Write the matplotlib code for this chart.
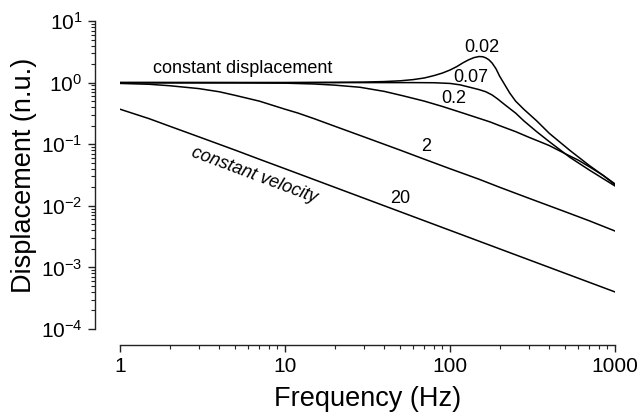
import matplotlib
matplotlib.use("Agg")
import matplotlib.pyplot as plt
from matplotlib.ticker import LogLocator, FixedLocator, FixedFormatter

plt.rcParams['font.family'] = ['Liberation Sans', 'DejaVu Sans']
plt.rcParams['mathtext.fontset'] = 'custom'
plt.rcParams['mathtext.rm'] = 'Liberation Sans'
plt.rcParams['mathtext.it'] = 'Liberation Sans:italic'

# values (Hz, normalised displacement)
freq_002 = [1, 10, 20, 30, 40, 50, 60, 70, 80, 90, 100, 110, 120, 130, 140, 150, 158, 165, 172,
            180, 190, 200, 215, 230, 250, 280, 335, 400, 534, 700, 850, 1000]
disp_002 = [1.0, 1.0, 1.01, 1.02, 1.04, 1.07, 1.12, 1.19, 1.30, 1.43, 1.60, 1.82, 2.1, 2.35, 2.55,
            2.65, 2.63, 2.52, 2.35, 2.08, 1.68, 1.27, 0.92, 0.68, 0.50, 0.37, 0.24, 0.15, 0.079,
            0.045, 0.031, 0.0227]

freq_007 = [1, 30, 60, 80, 100, 115, 132, 150, 165, 180, 195, 210, 230, 250, 280, 335, 400,
            534, 700, 850, 1000]
disp_007 = [1.0, 1.0, 1.0, 0.995, 0.97, 0.92, 0.84, 0.77, 0.71, 0.63, 0.54, 0.46, 0.38, 0.32,
            0.24, 0.16, 0.11, 0.061, 0.038, 0.0275, 0.021]

freq_02 = [1, 5, 10, 15, 20, 28.5, 40, 52, 70, 90, 120, 175, 200, 250, 300, 350, 400, 500,
           600, 700, 850, 1000]
disp_02 = [1.0, 0.995, 0.98, 0.95, 0.91, 0.84, 0.72, 0.61, 0.50, 0.41, 0.32, 0.23, 0.20, 0.16,
           0.13, 0.11, 0.095, 0.07, 0.055, 0.043, 0.031, 0.022]

freq_2 = [1, 1.5, 2, 3, 4, 5, 7, 10, 12, 15, 20, 30, 50, 70, 100, 150, 200, 300, 500, 700, 1000]
disp_2 = [0.97, 0.94, 0.89, 0.80, 0.71, 0.62, 0.50, 0.37, 0.32, 0.26, 0.196, 0.132, 0.080,
          0.057, 0.040, 0.027, 0.020, 0.0133, 0.0080, 0.0057, 0.0039]

freq_20 = [1, 1.5, 2, 3, 5, 7, 10, 20, 50, 100, 200, 500, 1000]
disp_20 = [0.37, 0.26, 0.196, 0.132, 0.080, 0.057, 0.040, 0.020, 0.0080, 0.0040, 0.0020,
           0.0008, 0.0004]

x_ticks = [1, 10, 100, 1000]
x_labels = ['1', '10', '100', '1000']
y_ticks = [1e-4, 1e-3, 1e-2, 1e-1, 1, 10]
y_labels = ['$10^{-4}$', '$10^{-3}$', '$10^{-2}$', '$10^{-1}$', '$10^{0}$', '$10^{1}$']

fig = plt.figure(figsize=(6.41, 4.16), dpi=100)
ax = fig.add_axes([0.1872, 0.2091, 0.7722, 0.7404])

for f, d in [(freq_002, disp_002), (freq_007, disp_007), (freq_02, disp_02),
             (freq_2, disp_2), (freq_20, disp_20)]:
    ax.plot(f, d, color='black', lw=1.1)

ax.set_xscale('log')
ax.set_yscale('log')
ax.set_xlim(1, 1000)
ax.set_ylim(1e-4, 10)

ax.spines['top'].set_visible(False)
ax.spines['right'].set_visible(False)
ax.spines['left'].set_position(('outward', 18))
ax.spines['bottom'].set_position(('outward', 11.5))
for s in ['left', 'bottom']:
    ax.spines[s].set_linewidth(1.0)
    ax.spines[s].set_color('#222222')

ax.xaxis.set_major_locator(FixedLocator(x_ticks))
ax.xaxis.set_major_formatter(FixedFormatter(x_labels))
ax.yaxis.set_major_locator(FixedLocator(y_ticks))
ax.yaxis.set_major_formatter(FixedFormatter(y_labels))
ax.xaxis.set_minor_locator(LogLocator(base=10, subs=range(2, 10)))
ax.yaxis.set_minor_locator(LogLocator(base=10, subs=range(2, 10)))
ax.xaxis.set_minor_formatter(plt.NullFormatter())
ax.yaxis.set_minor_formatter(plt.NullFormatter())
ax.tick_params(which='major', direction='out', length=5, width=1, labelsize=15,
               color='#222222', pad=4)
ax.tick_params(which='minor', direction='out', length=3, width=0.8, color='#222222')

ax.set_xlabel('Frequency (Hz)', fontsize=19.5, labelpad=7)
ax.set_ylabel('Displacement (n.u.)', fontsize=19.5, labelpad=3)

ax.text(5.56, 1.69, 'constant displacement', fontsize=13, ha='center', va='center')
ax.text(6.5, 0.031, 'constant velocity', fontsize=13, ha='center', va='center',
        rotation=-20.5, style='italic')
ax.text(156, 3.7, '0.02', fontsize=13, ha='center', va='center')
ax.text(134, 1.2, '0.07', fontsize=13, ha='center', va='center')
ax.text(106, 0.55, '0.2', fontsize=13, ha='center', va='center')
ax.text(71.6, 0.091, '2', fontsize=13, ha='center', va='center')
ax.text(49.8, 0.0131, '20', fontsize=13, ha='center', va='center')

fig.savefig('out.png', dpi=100)
